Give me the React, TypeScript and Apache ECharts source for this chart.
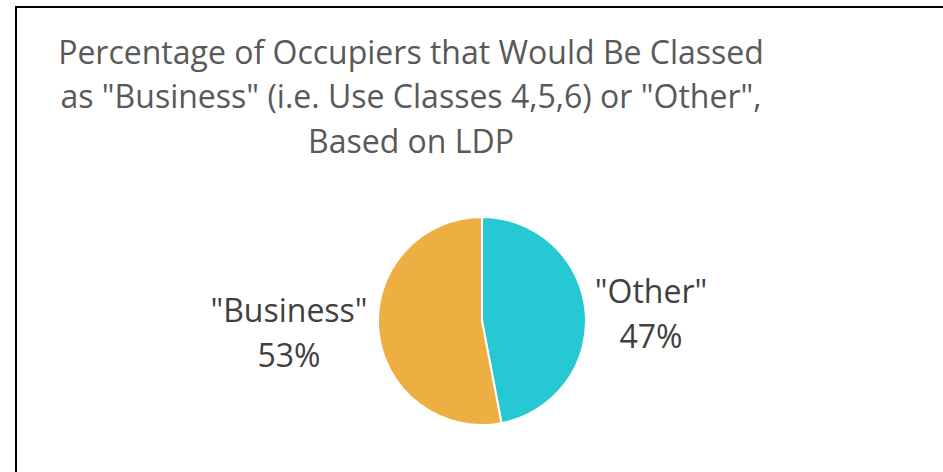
import React, { useEffect, useRef } from "react";
import * as echarts from "echarts";

const categories = ['"Other"', '"Business"'];
const values = [47, 53];
const colors = ["#26C9D3", "#EDAF42"];
const titleText =
  'Percentage of Occupiers that Would Be Classed\nas "Business" (i.e. Use Classes 4,5,6) or "Other",\nBased on LDP';

export default function App() {
  const ref = useRef<HTMLDivElement>(null);
  useEffect(() => {
    if (!ref.current) return;
    const chart = echarts.init(ref.current, null, { renderer: "svg" });
    const labelPos = [
      { x: 651, y: 313 },
      { x: 289, y: 332 },
    ];
    chart.setOption({
      animation: false,
      backgroundColor: "#ffffff",
      title: {
        text: titleText,
        left: 406,
        top: 24,
        textAlign: "center",
        textStyle: {
          fontFamily: "Open Sans",
          fontSize: 32,
          fontWeight: "normal",
          color: "#595959",
          lineHeight: 44.5,
        },
      },
      graphic: [
        {
          type: "rect",
          shape: { x: 16, y: 7, width: 1000, height: 520 },
          style: { fill: "none", stroke: "#000000", lineWidth: 2 },
          silent: true,
          z: 100,
        },
      ],
      series: [
        {
          type: "pie",
          center: [482, 321],
          radius: 104,
          startAngle: 90,
          clockwise: true,
          itemStyle: { borderColor: "#ffffff", borderWidth: 2 },
          label: {
            show: true,
            formatter: (p: any) => `${p.name}\n${p.value}%`,
            fontFamily: "Open Sans",
            fontSize: 32,
            color: "#404040",
            lineHeight: 45,
            align: "center",
          },
          labelLine: { show: false },
          labelLayout: (p: any) => ({
            x: labelPos[p.dataIndex].x,
            y: labelPos[p.dataIndex].y,
            align: "center",
            verticalAlign: "middle",
          }),
          emphasis: { disabled: true },
          data: categories.map((c, i) => ({
            name: c,
            value: values[i],
            itemStyle: { color: colors[i] },
          })),
        },
      ],
    });
    return () => chart.dispose();
  }, []);
  return (
    <div
      ref={ref}
      style={{ position: "fixed", left: 0, top: 0, width: 943, height: 472 }}
    />
  );
}
